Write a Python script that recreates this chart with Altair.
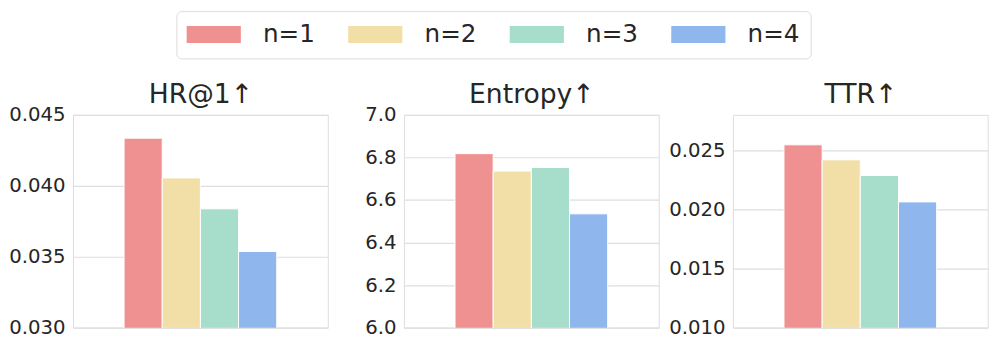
import altair as alt
import pandas as pd

groups = ["n=1", "n=2", "n=3", "n=4"]
colors = ["#F09191", "#F2DFA7", "#A6DECB", "#8FB6ED"]

hr_values = [0.04336, 0.04056, 0.03838, 0.03537]
entropy_values = [6.818, 6.736, 6.753, 6.535]
ttr_values = [0.02547, 0.02420, 0.02287, 0.02064]

hr_ticks = [0.030, 0.035, 0.040, 0.045]
entropy_ticks = [6.0, 6.2, 6.4, 6.6, 6.8, 7.0]
ttr_ticks = [0.010, 0.015, 0.020, 0.025]

FONT = "DejaVu Sans"
TEXT = "#262626"

color_enc = alt.Color(
    "n:N",
    scale=alt.Scale(domain=groups, range=colors),
    title=None,
    legend=alt.Legend(
        orient="none",
        direction="horizontal",
        legendX=105,
        legendY=-105.4,
        symbolType="M-3.16,-1H3.16V1H-3.16Z",
        symbolSize=303,
        symbolOffset=14.4,
        symbolStrokeWidth=0,
        symbolOpacity=1,
        labelFontSize=25,
        labelFont=FONT,
        labelColor=TEXT,
        labelOffset=37.5,
        columnPadding=33,
        padding=11,
        strokeColor="#dcdcdc",
        fillColor="white",
        cornerRadius=5,
    ),
)


def panel(values, title, domain, ticks, fmt):
    df = pd.DataFrame({"g": ["all"] * len(groups), "n": groups, "v": values})
    return (
        alt.Chart(df)
        .mark_bar(stroke="white", strokeWidth=1, clip=True)
        .encode(
            x=alt.X(
                "g:N",
                scale=alt.Scale(paddingInner=0, paddingOuter=0.3345),
                axis=alt.Axis(
                    orient="top",
                    title=title,
                    labels=False,
                    ticks=False,
                    domain=False,
                    grid=False,
                    titleFontSize=27,
                    titleFont=FONT,
                    titleFontWeight="normal",
                    titleColor=TEXT,
                    titleBaseline="alphabetic",
                    titlePadding=12.7,
                ),
            ),
            xOffset=alt.XOffset(
                "n:N", sort=groups, scale=alt.Scale(paddingInner=0, paddingOuter=0)
            ),
            y=alt.Y(
                "v:Q",
                scale=alt.Scale(domain=domain, zero=False, nice=False),
                axis=alt.Axis(
                    values=ticks,
                    format=fmt,
                    title=None,
                    ticks=False,
                    domain=False,
                    grid=True,
                    gridColor="#dedede",
                    gridWidth=1.2,
                    labelFontSize=20,
                    labelFont=FONT,
                    labelColor=TEXT,
                    labelPadding=8,
                ),
            ),
            color=color_enc,
        )
        .properties(width=258.7, height=216)
    )


p1 = panel(hr_values, "HR@1↑", [0.030, 0.045], hr_ticks, ".3f")
p2 = panel(entropy_values, "Entropy↑", [6.0, 7.0], entropy_ticks, ".1f")
p3 = panel(ttr_values, "TTR↑", [0.010, 0.028], ttr_ticks, ".3f")

chart = (
    alt.hconcat(alt.hconcat(p1, p2, spacing=35), p3, spacing=8)
    .properties(padding=0)
    .configure_view(stroke="#d4d4d4", strokeWidth=1.3)
    .configure(font=FONT)
)

chart.save("out.html", embed_options={"renderer": "svg", "actions": False})
